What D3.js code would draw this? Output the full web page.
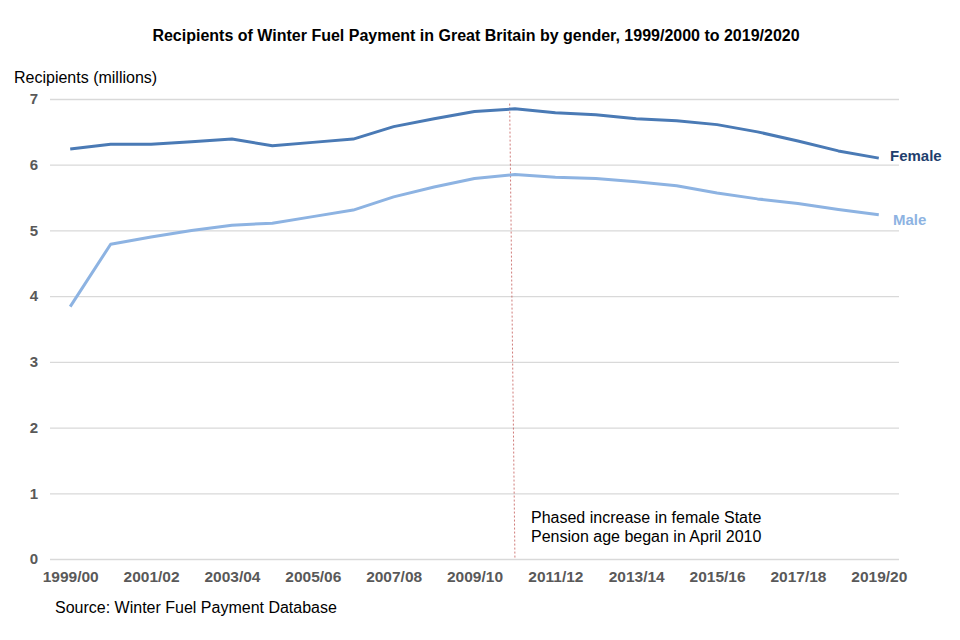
<!DOCTYPE html>
<html>
<head>
<meta charset="utf-8">
<script src="https://cdn.jsdelivr.net/npm/d3@7"></script>
<style>
  body { margin: 0; background: #fff; }
  svg { display: block; font-family: "Liberation Sans", Arial, sans-serif; }
</style>
</head>
<body>
<svg id="chart" width="960" height="640"></svg>
<script>
const years = ["1999/00","2000/01","2001/02","2002/03","2003/04","2004/05","2005/06","2006/07","2007/08","2008/09","2009/10","2010/11","2011/12","2012/13","2013/14","2014/15","2015/16","2016/17","2017/18","2018/19","2019/20"];
const female = [6.24,6.31,6.31,6.35,6.39,6.29,6.34,6.39,6.58,6.70,6.81,6.85,6.79,6.76,6.70,6.67,6.61,6.50,6.36,6.21,6.10];
const male = [3.84,4.79,4.90,5.00,5.08,5.11,5.21,5.31,5.51,5.66,5.79,5.85,5.81,5.79,5.74,5.68,5.57,5.48,5.41,5.32,5.24];
const yTicks = [0,1,2,3,4,5,6,7];
const xTickLabels = ["1999/00","2001/02","2003/04","2005/06","2007/08","2009/10","2011/12","2013/14","2015/16","2017/18","2019/20"];

const svg = d3.select("#chart");
const mLeft = 50, mRight = 899, mTop = 99, mBottom = 559;

const x = d3.scalePoint().domain(years).range([mLeft, mRight]).padding(0.5);
const y = d3.scaleLinear().domain([0, 7]).range([mBottom, mTop]);

// title
svg.append("text").attr("x", 476).attr("y", 41).attr("text-anchor", "middle")
  .attr("font-size", 16).attr("font-weight", "bold").attr("fill", "#000")
  .text("Recipients of Winter Fuel Payment in Great Britain by gender, 1999/2000 to 2019/2020");

// y axis title
svg.append("text").attr("x", 14).attr("y", 83).attr("font-size", 16).attr("fill", "#000")
  .text("Recipients (millions)");

// gridlines
const yAxis = d3.axisLeft(y).tickValues(yTicks).tickSize(-(mRight - mLeft)).tickFormat(d3.format("d")).tickPadding(12);
const gy = svg.append("g").attr("transform", `translate(${mLeft},0)`).call(yAxis);
gy.select(".domain").remove();
gy.selectAll(".tick line").attr("stroke", "#d9d9d9").attr("stroke-width", 1.3);
gy.selectAll(".tick text").attr("font-size", 15).attr("font-weight", "bold").attr("fill", "#595959")
  .attr("font-family", "Liberation Sans, Arial, sans-serif");

// x axis
const xAxis = d3.axisBottom(x).tickValues(xTickLabels).tickSize(0).tickPadding(12);
const gx = svg.append("g").attr("transform", `translate(0,${mBottom})`).call(xAxis);
gx.select(".domain").remove();
gx.selectAll(".tick text").attr("font-size", 15.5).attr("font-weight", "bold").attr("fill", "#595959")
  .attr("font-family", "Liberation Sans, Arial, sans-serif");

// annotation line
const step = x.step();
svg.append("line")
  .attr("x1", x("2009/10") + 0.87 * step).attr("y1", y(6.93))
  .attr("x2", x("2010/11")).attr("y2", y(0))
  .attr("stroke", "#c0504d").attr("stroke-opacity", 0.75).attr("stroke-width", 1)
  .attr("stroke-dasharray", "2,2");

svg.append("text").attr("font-size", 16).attr("fill", "#000")
  .selectAll("tspan").data(["Phased increase in female State", "Pension age began in April 2010"])
  .join("tspan").attr("x", 531).attr("y", (d, i) => 523 + i * 19).text(d => d);

// lines
const line = d3.line().x((d, i) => x(years[i])).y(d => y(d));
svg.append("path").datum(male).attr("d", line).attr("fill", "none")
  .attr("stroke", "#8db3e2").attr("stroke-width", 3).attr("stroke-linejoin", "round");
svg.append("path").datum(female).attr("d", line).attr("fill", "none")
  .attr("stroke", "#4a7ab5").attr("stroke-width", 3).attr("stroke-linejoin", "round");

// series labels
svg.append("text").attr("x", 890).attr("y", y(female[20]) + 3).attr("font-size", 15).attr("font-weight", "bold")
  .attr("fill", "#1f3f6e").text("Female");
svg.append("text").attr("x", 893).attr("y", y(male[20]) + 10).attr("font-size", 15).attr("font-weight", "bold")
  .attr("fill", "#8db3e2").text("Male");

// source
svg.append("text").attr("x", 55).attr("y", 613).attr("font-size", 16).attr("fill", "#000")
  .text("Source: Winter Fuel Payment Database");
</script>
</body>
</html>
